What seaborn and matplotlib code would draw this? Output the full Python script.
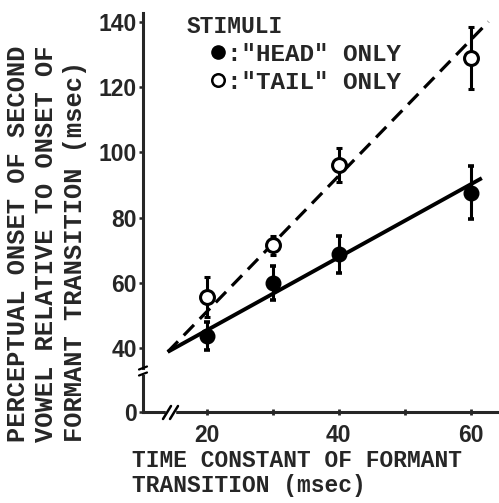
import matplotlib
matplotlib.use("Agg")
import matplotlib.pyplot as plt
import seaborn as sns
import pandas as pd
from matplotlib.lines import Line2D

# ---------------- data ----------------
x_vals = [20, 30, 40, 60]
head_y = [43.8, 60.0, 68.8, 87.7]
head_err = [4.2, 5.2, 5.7, 8.2]
tail_y = [55.8, 71.6, 96.1, 128.8]
tail_err = [6.1, 2.9, 5.1, 9.5]

head_fit_x = [14.1, 61.7]
head_fit_y = [38.9, 92.1]
tail_fit_x = [14.1, 62.7]
tail_fit_y = [38.9, 140.0]

x_ticks = [20, 30, 40, 50, 60]
x_tick_labels = ["20", "", "40", "", "60"]
y_ticks = [40, 60, 80, 100, 120, 140]
y_tick_labels = ["40", "60", "80", "100", "120", "140"]
y_zero_ticks = [0]
y_zero_labels = ["0"]

legend_title = "STIMULI"
legend_labels = [':"HEAD" ONLY', ':"TAIL" ONLY']
x_label = "TIME CONSTANT OF FORMANT\nTRANSITION (msec)"
y_label = ("PERCEPTUAL ONSET OF SECOND\n"
           "VOWEL RELATIVE TO ONSET OF\n"
           "FORMANT TRANSITION (msec)")

df = pd.DataFrame({"x": x_vals, "head": head_y, "head_err": head_err,
                   "tail": tail_y, "tail_err": tail_err})

# ---------------- style ----------------
sns.set_theme(style="ticks")
plt.rcParams["font.family"] = ["Liberation Mono", "DejaVu Sans Mono"]
plt.rcParams["axes.linewidth"] = 2.2
mono = dict(family=["Liberation Mono", "DejaVu Sans Mono"], weight="bold")
num = dict(family=["Liberation Sans", "DejaVu Sans"], weight="bold", size=16.5)

W, H = 499, 503
fig = plt.figure(figsize=(W / 100, H / 100), dpi=100)
fig.patch.set_facecolor("white")


def px_axes(l, t, r, b):
    return fig.add_axes([l / W, 1 - b / H, (r - l) / W, (b - t) / H])


PXY = 3.266  # px per msec on y
X0, X1 = 10.4, 64.3

ax = px_axes(143.3, 13.3, 499, 368)
ax.set_xlim(X0, X1)
ax.set_ylim(140 - (368 - 21.7) / PXY, 140 + (21.7 - 13.3) / PXY)
ax_lo = px_axes(143.3, 376, 499, 412.3)
ax_lo.set_xlim(X0, X1)
ax_lo.set_ylim(0, (412.3 - 376) / PXY)

for a in (ax, ax_lo):
    a.set_facecolor("none")
    a.spines["top"].set_visible(False)
    a.spines["right"].set_visible(False)
ax.spines["bottom"].set_visible(False)

# fit lines
sns.lineplot(x=head_fit_x, y=head_fit_y, ax=ax, color="black", lw=2.8,
             solid_capstyle="butt", zorder=2)
sns.lineplot(x=tail_fit_x, y=tail_fit_y, ax=ax, color="black", lw=2.3,
             linestyle=(0, (4.6, 2.6)), dash_capstyle="butt", zorder=2)

# data points with error bars
ax.errorbar(df["x"], df["head"], yerr=df["head_err"], fmt="o", color="black",
            ms=10.5, elinewidth=2.2, capsize=2.3, capthick=2.6, zorder=3)
ax.errorbar(df["x"], df["tail"], yerr=df["tail_err"], fmt="o", color="black",
            mfc="white", mec="black", mew=2.2, ms=10.0, elinewidth=2.2,
            capsize=2.3, capthick=2.6, zorder=3)

# ticks
ax.set_xticks([])
ax.set_yticks(y_ticks)
ax.set_yticklabels(y_tick_labels, **num)
ax.tick_params(axis="y", direction="out", length=3, width=1.8, pad=1.5)
ax_lo.set_yticks(y_zero_ticks)
ax_lo.set_yticklabels(y_zero_labels, **num)
ax_lo.tick_params(axis="y", direction="out", length=3, width=1.8, pad=1.5)
ax_lo.set_xticks(x_ticks)
ax_lo.set_xticklabels(x_tick_labels, **num)
ax_lo.tick_params(axis="x", direction="inout", length=5, width=2.0, pad=6)

# axis breaks (decoration)
def fline(xs, ys, **kw):
    fig.add_artist(Line2D([v / W for v in xs], [1 - v / H for v in ys],
                          transform=fig.transFigure, color="black", **kw))

# y break squiggle
fline([139, 147], [369.5, 366.5], lw=1.6)
fline([139, 147], [375.5, 372.5], lw=1.6)
# x break
fig.add_artist(plt.Rectangle((166 / W, 1 - 416 / H), 9 / W, 8 / H,
                             transform=fig.transFigure, color="white", zorder=5))
fline([163, 171], [419, 406], lw=1.8, zorder=6)
fline([170, 178], [419, 406], lw=1.8, zorder=6)

# labels
fig.text(131.7 / W, 1 - 449 / H, x_label, ha="left", va="top", size=16.5,
         linespacing=1.13, **mono)
fig.text(46.5 / W, 1 - 442 / H, y_label, ha="center", va="bottom", rotation=90,
         multialignment="left", size=18.3, linespacing=1.25, **mono)

# legend
fig.text(186.7 / W, 1 - 26.7 / H, legend_title, ha="left", va="center",
         size=16.5, **mono)
handles = [Line2D([], [], marker="o", ls="none", color="black", ms=9.5),
           Line2D([], [], marker="o", ls="none", color="black", mfc="white",
                  mew=1.8, ms=9.0)]
fig.legend(handles, legend_labels, loc="upper left",
           bbox_to_anchor=(211 / W, 1 - 43 / H), bbox_transform=fig.transFigure,
           frameon=False, handlelength=0.6, handletextpad=0.05, borderpad=0,
           borderaxespad=0, labelspacing=0.2,
           prop=dict(family=["Liberation Mono", "DejaVu Sans Mono"],
                     weight="bold", size=17.5))

fig.savefig("out.png", dpi=100, facecolor="white")
